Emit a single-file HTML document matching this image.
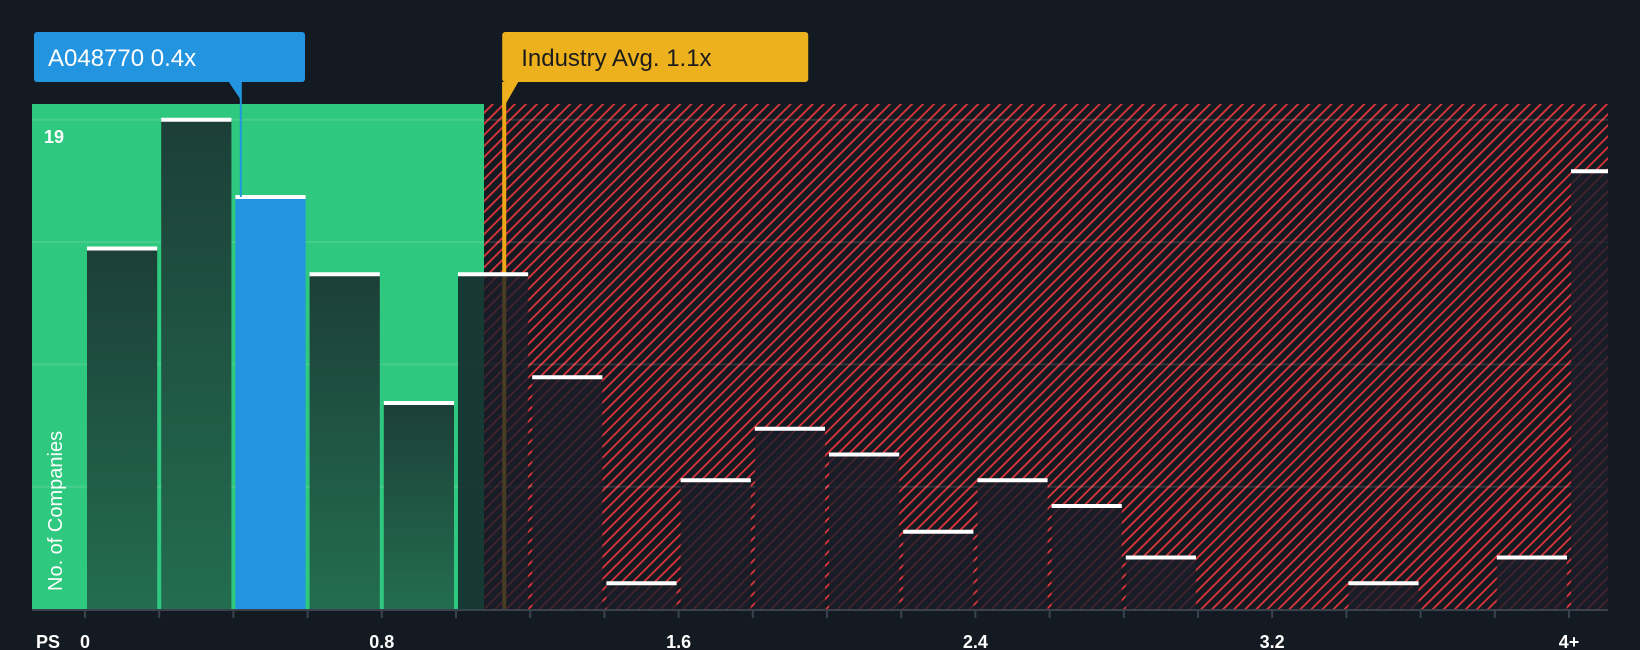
<!DOCTYPE html>
<html><head><meta charset="utf-8"><style>
html,body{margin:0;padding:0;background:#141a22;width:1640px;height:650px;overflow:hidden;font-family:"Liberation Sans",sans-serif}
</style></head><body>
<svg id="chart" width="1640" height="650" xmlns="http://www.w3.org/2000/svg">
<defs>
<pattern id="hatch" patternUnits="userSpaceOnUse" width="7.8" height="7.8" patternTransform="rotate(45)">
<rect width="7.8" height="7.8" fill="#141a22"/>
<rect x="0" y="0" width="1.8" height="7.8" fill="#e0353b"/>
</pattern>
<linearGradient id="gbar" x1="0" y1="0" x2="0" y2="1"><stop offset="0" stop-color="#1c3f37"/><stop offset="1" stop-color="#236d50"/></linearGradient>
</defs>
<g id="bg"></g>
<g id="bars"></g>
<g id="overlay"></g>
</svg>
<script>
const binLabels=["0","0.2","0.4","0.6","0.8","1.0","1.2","1.4","1.6","1.8","2.0","2.2","2.4","2.6","2.8","3.0","3.2","3.4","3.6","3.8","4+"];
const counts=[14,19,16,13,8,13,9,1,5,7,6,3,5,4,2,0,0,1,0,2,17];
const tickLabels=["0","0.8","1.6","2.4","3.2","4+"];
const tickValues=[0,0.8,1.6,2.4,3.2,4.0];
const companyValue=0.42;
const industryValue=1.13;
const highlightBin=2;
const yMaxLabel=19;

const NS="http://www.w3.org/2000/svg";
const L=32,R=1608,T=104,B=609,X0=85,BW=74.2;
const x=v=>X0+v/0.2*BW;
const y=c=>B-c*25.75;
function mk(tag,attrs,parent){const e=document.createElementNS(NS,tag);for(const k in attrs)e.setAttribute(k,attrs[k]);parent.appendChild(e);return e;}
const bg=document.getElementById('bg'),bars=document.getElementById('bars'),ov=document.getElementById('overlay');
const splitX=x(1.0)+28;
let r=mk('rect',{x:L,y:T,width:splitX-L,height:B-T,fill:'#2ec87e'},bg);


r=mk('rect',{x:splitX,y:T,width:R-splitX,height:B-T,fill:'url(#hatch)'},bg);


for(let k=1;k<=4;k++){const gy=y(yMaxLabel*k/4);
 const g=mk('line',{x1:L,x2:R,y1:gy,y2:gy,stroke:'rgba(255,255,255,0.12)','stroke-width':2},bg);
 
 }
const ix=x(industryValue);
let il=mk('line',{x1:ix,x2:ix,y1:82,y2:B,stroke:'#f0a818','stroke-width':4},bg);


counts.forEach((c,i)=>{
 const x1=x(i*0.2)+2, x2=Math.min(x((i+1)*0.2)-2,R);
 if(c<=0)return;
 const inGreen=x2<=splitX;
 let fill=i===highlightBin?'#2394e0':(inGreen?'url(#gbar)':'rgba(24,30,40,0.78)');
 const b=mk('rect',{x:x1,y:y(c),width:x2-x1,height:B-y(c),fill:fill},bars);
 
 
 if(!inGreen&&x1<splitX){
   const p=mk('rect',{x:x1,y:y(c),width:splitX-x1,height:B-y(c),fill:'rgba(22,55,50,0.8)'},bars);
   
   
 }
 const t=mk('rect',{x:x1,y:y(c)-2,width:x2-x1,height:4,fill:'#ffffff'},bars);
 
 
});
let ax=mk('line',{x1:L,x2:R,y1:B+1,y2:B+1,stroke:'#3a424d','stroke-width':2},ov);


for(let i=0;i<=20;i++){const tx=x(i*0.2);
 const tk=mk('line',{x1:tx,x2:tx,y1:B,y2:B+9,stroke:'#3a424d','stroke-width':2},ov);
 
 }
tickValues.forEach((v,i)=>{
 const t=mk('text',{x:x(v),y:648,'text-anchor':'middle',fill:'#fff','font-size':18,'font-weight':'bold'},ov);
 t.textContent=tickLabels[i];
 
 });
let ps=mk('text',{x:36,y:648,fill:'#fff','font-size':18,'font-weight':'bold'},ov);ps.textContent='PS';


let yl=mk('text',{x:44,y:143,fill:'#fff','font-size':18,'font-weight':'bold'},ov);yl.textContent=String(yMaxLabel);


let yt=mk('text',{x:0,y:0,fill:'#fff','font-size':20,transform:'translate(62,591) rotate(-90)'},ov);yt.textContent='No. of Companies';


const cx=x(companyValue);
let cl=mk('line',{x1:cx,x2:cx,y1:82,y2:y(counts[highlightBin]),stroke:'#2394e0','stroke-width':2},ov);


let cp=mk('path',{d:`M${cx-12},82 L${cx},82 L${cx},100 Z`,fill:'#2394e0'},ov);


let cb=mk('rect',{x:34,y:32,width:271,height:50,rx:3,fill:'#2394e0'},ov);


let ct=mk('text',{x:48,y:66,fill:'#fff','font-size':24},ov);ct.textContent='A048770 0.4x';


let ip=mk('path',{d:`M${ix-2},82 L${ix+14},82 L${ix-2},110 Z`,fill:'#ecb11c'},ov);


let ib=mk('rect',{x:ix-2,y:32,width:306,height:50,rx:3,fill:'#ecb11c'},ov);


let it=mk('text',{x:ix+17,y:66,fill:'#1c1c1c','font-size':24},ov);it.textContent='Industry Avg. 1.1x';


</script>
</body></html>
